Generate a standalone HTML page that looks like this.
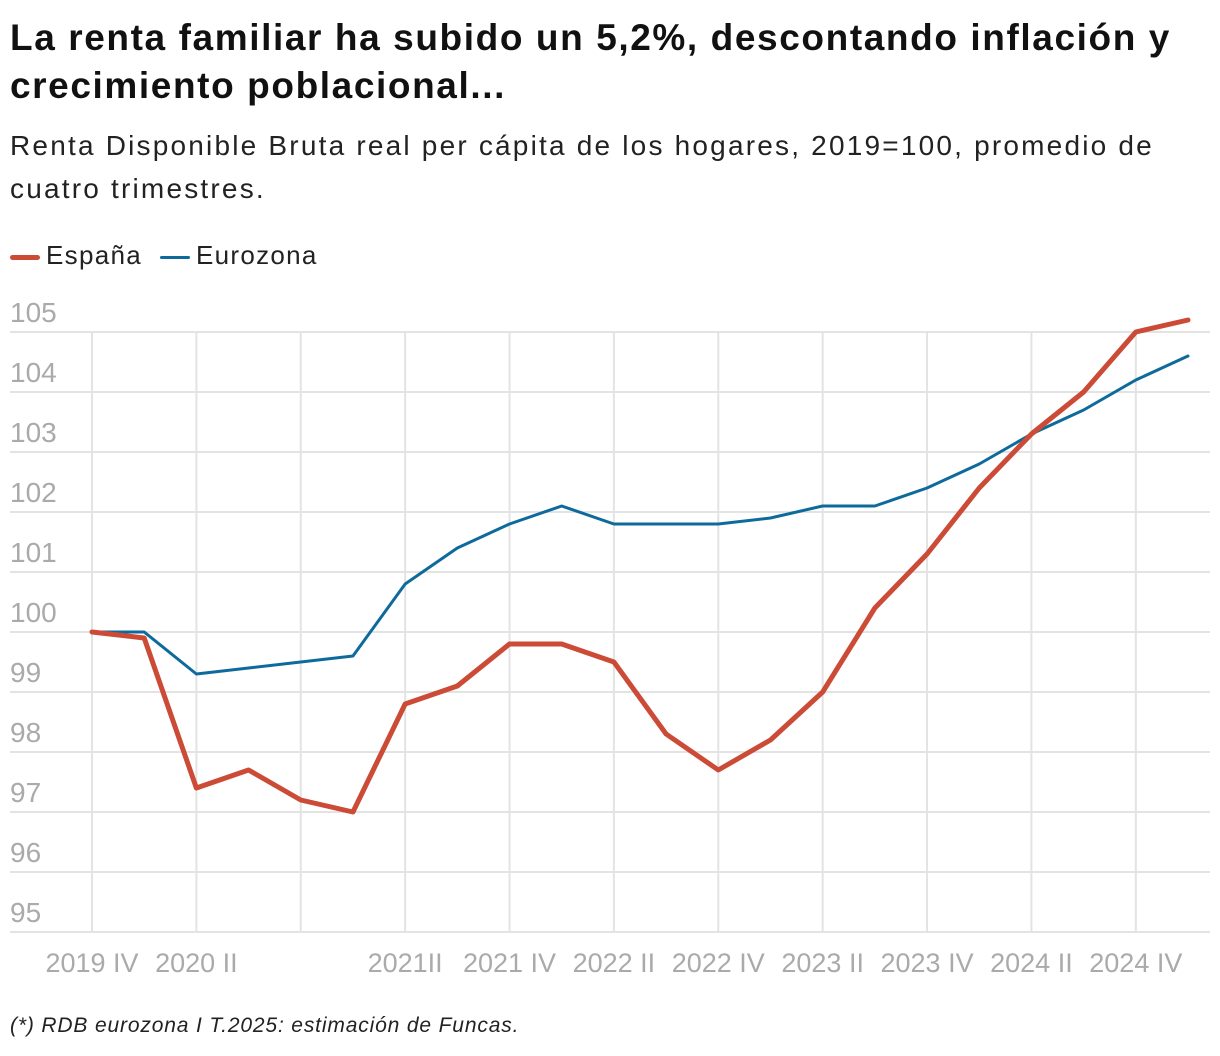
<!DOCTYPE html>
<html><head><meta charset="utf-8"><style>
body{margin:0;background:#fff;font-family:"Liberation Sans",sans-serif;}
#wrap{position:relative;width:1220px;height:1056px;overflow:hidden}
h1{position:absolute;left:10px;top:14px;margin:0;font-size:37px;line-height:48px;font-weight:bold;color:#111;letter-spacing:1.6px;white-space:nowrap}
#sub{position:absolute;left:10px;top:124px;font-size:28px;line-height:43px;color:#222;letter-spacing:2.2px;white-space:nowrap}
#legend{position:absolute;left:10px;top:240px;font-size:26px;color:#222;letter-spacing:1.3px}
.lg{display:inline-block;margin-right:18px}
.sw{display:inline-block;width:30px;height:5px;vertical-align:middle;margin-right:6px;border-radius:3px}
#foot{position:absolute;left:10px;top:1014px;font-size:21px;font-style:italic;color:#222;letter-spacing:0.85px}
svg{position:absolute;left:0;top:0}
</style></head><body><div id="wrap">
<h1>La renta familiar ha subido un 5,2%, descontando inflación y<br>crecimiento poblacional...</h1>
<div id="sub">Renta Disponible Bruta real per cápita de los hogares, 2019=100, promedio de<br>cuatro trimestres.</div>
<div id="legend"><span class="lg"><span class="sw" style="background:#cc4b37"></span>España</span><span class="lg"><span class="sw" style="background:#0f6a9c;height:3px"></span>Eurozona</span></div>
<svg id="chart" width="1220" height="1056"></svg>
<div id="foot">(*) RDB eurozona I T.2025: estimación de Funcas.</div>
</div>
<script>
const yTicks=[95,96,97,98,99,100,101,102,103,104,105];
const xTickIdx=[0,2,6,8,10,12,14,16,18,20];
const xTickLabels=["2019 IV","2020 II","2021II","2021 IV","2022 II","2022 IV","2023 II","2023 IV","2024 II","2024 IV"];
const espana=[100,99.9,97.4,97.7,97.2,97.0,98.8,99.1,99.8,99.8,99.5,98.3,97.7,98.2,99.0,100.4,101.3,102.4,103.3,104.0,105.0,105.2];
const eurozona=[100,100,99.3,99.4,99.5,99.6,100.8,101.4,101.8,102.1,101.8,101.8,101.8,101.9,102.1,102.1,102.4,102.8,103.3,103.7,104.2,104.6];
const NS="http://www.w3.org/2000/svg";
const svg=document.getElementById('chart');
const x=i=>92+i*(1188-92)/21;
const y=v=>632-(v-100)*60;
function mk(t,a){const e=document.createElementNS(NS,t);for(const k in a)e.setAttribute(k,a[k]);svg.appendChild(e);return e;}
for(let i=0;i<=20;i+=2){
 const l=mk('line',{x1:x(i),x2:x(i),y1:y(105),y2:y(95),stroke:'#e3e3e3','stroke-width':2});
 
 
}
yTicks.forEach(v=>{
 const l=mk('line',{x1:10,x2:1210,y1:y(v),y2:y(v),stroke:'#e3e3e3','stroke-width':2});
 
 
 const t=mk('text',{x:10,y:y(v)-10,'font-size':28,fill:'#aaa','font-family':'Liberation Sans, sans-serif'});
 t.textContent=v;
 
 
});
xTickIdx.forEach((i,k)=>{
 const t=mk('text',{x:x(i),y:972,'font-size':27,fill:'#aaa','text-anchor':'middle','font-family':'Liberation Sans, sans-serif'});
 t.textContent=xTickLabels[k];
 
 
});
function line(d,c,w,n){
 const p=mk('polyline',{points:d.map((v,i)=>x(i)+','+y(v)).join(' '),fill:'none',stroke:c,'stroke-width':w,'stroke-linejoin':'round','stroke-linecap':'round'});
 
 
}
line(eurozona,'#0f6a9c',3,'eurozona-line');
line(espana,'#cc4b37',5,'espana-line');
</script></body></html>
